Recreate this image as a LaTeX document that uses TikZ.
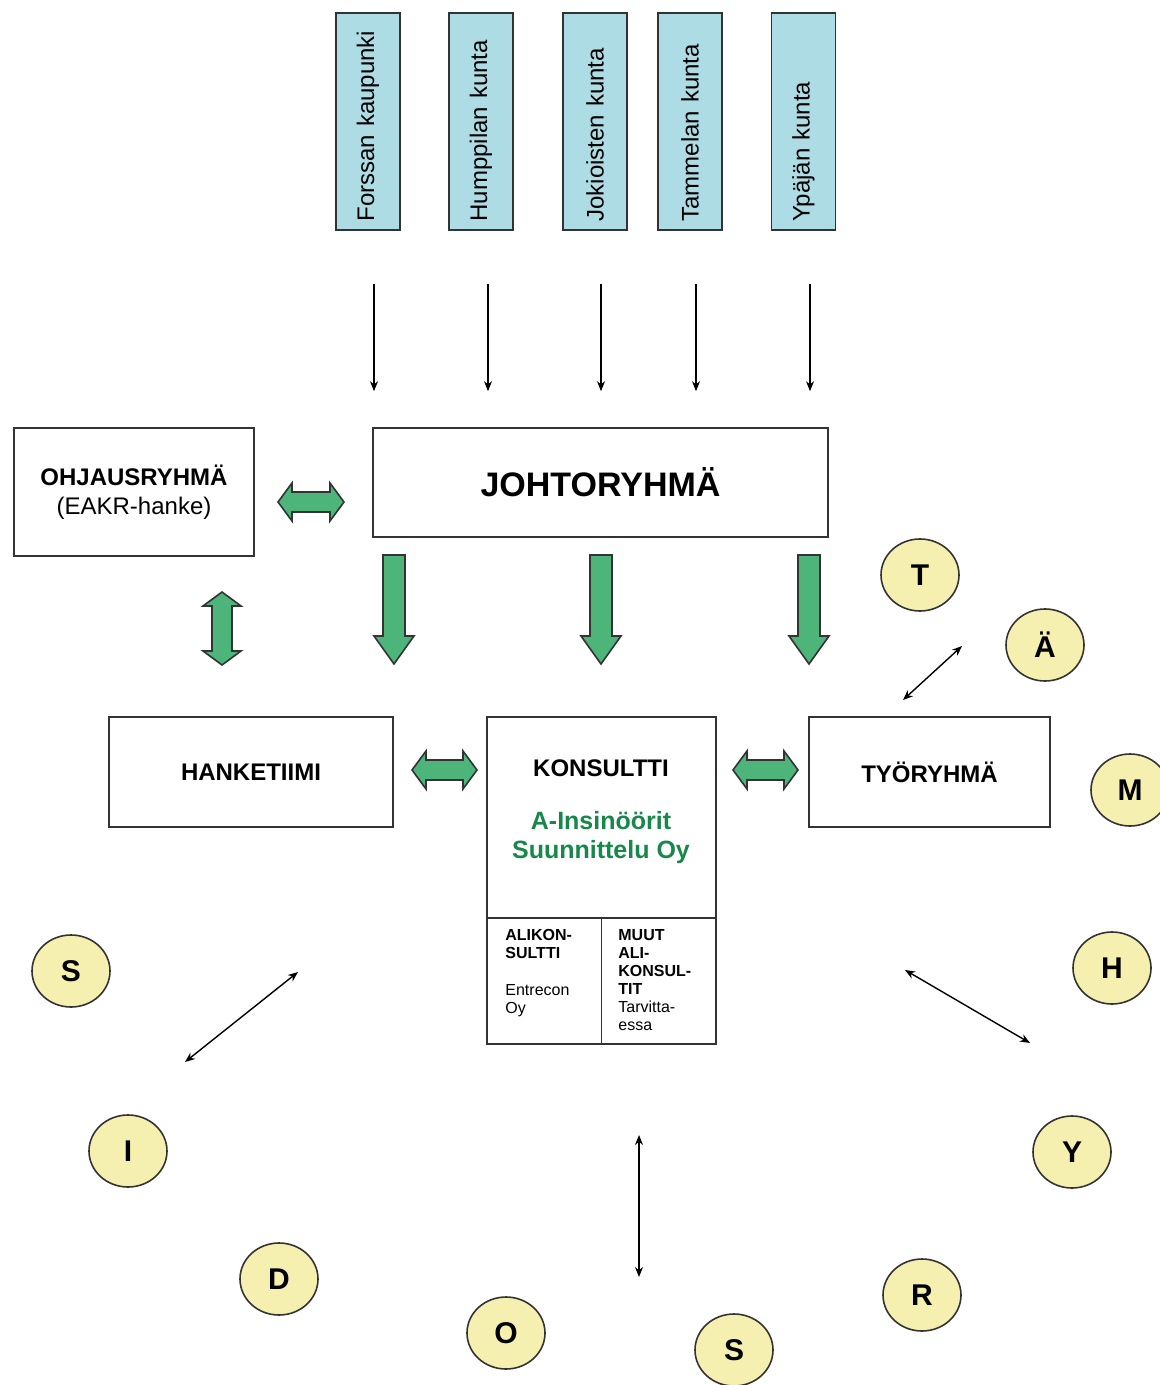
\documentclass[tikz,border=0pt]{standalone}
\usepackage{fontspec}
\setmainfont{Liberation Sans}
\usepackage{tikz}
\usetikzlibrary{arrows.meta,positioning,calc,shapes.geometric}
\definecolor{paleblue}{HTML}{ADDCE4}
\definecolor{leafgreen}{HTML}{4DB57A}
\definecolor{inkgreen}{HTML}{17884A}
\definecolor{paleyellow}{HTML}{F6F0B0}

\begin{document}
\begin{tikzpicture}[x=0.5pt,y=-0.5pt,
   kunta/.style={draw=black!80,line width=0.8pt,fill=paleblue,rotate=90,
                 inner xsep=4.25pt,inner ysep=0pt,text width=100pt,align=left,
                 minimum height=32pt,font=\fontsize{12}{14}\selectfont},
   ryhma/.style={draw=black!80,line width=0.8pt,fill=white,align=center,
                 font=\bfseries\fontsize{12}{14.5}\selectfont},
   pieni/.style={inner sep=0pt,align=left,font=\fontsize{8}{9}\selectfont},
   kirjain/.style={ellipse,draw=black!80,line width=0.8pt,fill=paleyellow,
                 minimum width=39pt,minimum height=36pt,inner sep=0pt,
                 font=\bfseries\fontsize{15}{15}\selectfont},
   vihrea/.style={draw=black!80,line width=0.8pt,fill=leafgreen,line join=miter},
   ohut/.style={line width=0.7pt,-{Stealth[length=5pt,width=4pt]}},
   kaksi/.style={line width=0.7pt,{Stealth[length=5pt,width=4pt]}-{Stealth[length=5pt,width=4pt]}},
   pics/alas/.style={code={
     \draw[vihrea] (-11,0) -- (11,0) -- (11,81) -- (20,81) -- (0,109)
                   -- (-20,81) -- (-11,81) -- cycle;}},
   pics/tupla/.style={code={
     \draw[vihrea] (-#1,0) -- (-#1+14,-19) -- (-#1+14,-10) -- (#1-14,-10)
                   -- (#1-14,-19) -- (#1,0) -- (#1-14,19) -- (#1-14,10)
                   -- (-#1+14,10) -- (-#1+14,19) -- cycle;}}]
  \useasboundingbox (0,0) rectangle (1160,1385);

  % kunnat
  \node[kunta] (forssa) at (368,121.5) {Forssan kaupunki};
  \node[kunta] (humppila) at (481,121.5) {Humppilan kunta};
  \node[kunta] (jokioinen) at (595,121.5) {Jokioisten kunta};
  \node[kunta] (tammela) at (690,121.5) {Tammelan kunta};
  \node[kunta] (ypaja) at (803.5,121.5) {Ypäjän kunta};

  % ryhmat
  \node[ryhma,minimum width=227.5pt,minimum height=54.5pt,
        font=\bfseries\fontsize{17}{20}\selectfont] (johto) at (600.5,482.5) {JOHTORYHMÄ};
  \node[ryhma,minimum width=120pt,minimum height=64pt] (ohjaus) at (134,492)
    {OHJAUSRYHMÄ\\\mdseries (EAKR-hanke)};
  \node[ryhma,minimum width=142pt,minimum height=55pt] (hanke) at (251,772) {HANKETIIMI};
  \node[ryhma,minimum width=120.5pt,minimum height=55pt] (tyo) at (929.5,772) {TYÖRYHMÄ};
  \node[ryhma,minimum width=114.5pt,minimum height=163.5pt] (kons) at (601.5,880.5) {};
  \draw[black!80,line width=0.8pt] ([yshift=63.5pt]kons.south west) -- ([yshift=63.5pt]kons.south east);
  \draw[black!80,line width=0.8pt] ([yshift=63.5pt]kons.south) -- (kons.south);

  \node[font=\bfseries\fontsize{12}{14.5}\selectfont] (konsnimi) at (601,768) {KONSULTTI};
  \node[align=center,text=inkgreen,font=\bfseries\fontsize{12.5}{14.5}\selectfont]
    (insinoorit) at (601,838) {A-Insinöörit\\Suunnittelu Oy};
  \node[pieni,anchor=north west] (alikons) at (505,929)
    {\textbf{ALIKON-}\\\textbf{SULTTI}\\[9.5pt]Entrecon\\Oy};
  \node[pieni,anchor=north west] (muut) at (618,929)
    {\textbf{MUUT}\\\textbf{ALI-}\\\textbf{KONSUL-}\\\textbf{TIT}\\Tarvitta-\\essa};

  % kuntien nuolet
  \draw[ohut,shorten <=26.5pt,shorten >=18pt] ([xshift=3pt]forssa.west) -- ([xshift=3pt]forssa.west |- johto.north);
  \draw[ohut,shorten <=26.5pt,shorten >=18pt] ([xshift=3.5pt]humppila.west) -- ([xshift=3.5pt]humppila.west |- johto.north);
  \draw[ohut,shorten <=26.5pt,shorten >=18pt] ([xshift=3pt]jokioinen.west) -- ([xshift=3pt]jokioinen.west |- johto.north);
  \draw[ohut,shorten <=26.5pt,shorten >=18pt] ([xshift=3pt]tammela.west) -- ([xshift=3pt]tammela.west |- johto.north);
  \draw[ohut,shorten <=26.5pt,shorten >=18pt] ([xshift=3.25pt]ypaja.west) -- ([xshift=3.25pt]ypaja.west |- johto.north);

  % vihreat nuolet
  \pic at (394,555) {alas};
  \pic at (601,555) {alas};
  \pic at (809,555) {alas};
  \pic at (311,502) {tupla=33};
  \pic[rotate=90] at (222,628.5) {tupla=36.5};
  \pic at (444.5,770) {tupla=32.5};
  \pic at (765.5,770) {tupla=32.5};

  % kirjaimet
  \node[kirjain] (t) at (920,575) {T};
  \node[kirjain] (ae) at (1045,645) {Ä};
  \node[kirjain] (m) at (1130,790) {M};
  \node[kirjain] (h) at (1112,968) {H};
  \node[kirjain] (y) at (1072,1152) {Y};
  \node[kirjain] (r) at (922,1295) {R};
  \node[kirjain] (s2) at (734,1350) {S};
  \node[kirjain] (o) at (506,1333) {O};
  \node[kirjain] (d) at (279,1279) {D};
  \node[kirjain] (i) at (128,1151) {I};
  \node[kirjain] (s1) at (71,971) {S};

  % ohuet kaksisuuntaiset nuolet
  \coordinate (tyoA) at (903,700);
  \coordinate (tyoB) at (962,646);
  \coordinate (vasA) at (298,972);
  \coordinate (vasB) at (185,1062);
  \coordinate (alaA) at (639,1135);
  \coordinate (alaB) at (639,1277);
  \coordinate (oikA) at (905,970);
  \coordinate (oikB) at (1030,1043);
  \draw[kaksi] (tyoA) -- (tyoB);
  \draw[kaksi] (vasA) -- (vasB);
  \draw[kaksi] (alaA) -- (alaB);
  \draw[kaksi] (oikA) -- (oikB);
\end{tikzpicture}
\end{document}
